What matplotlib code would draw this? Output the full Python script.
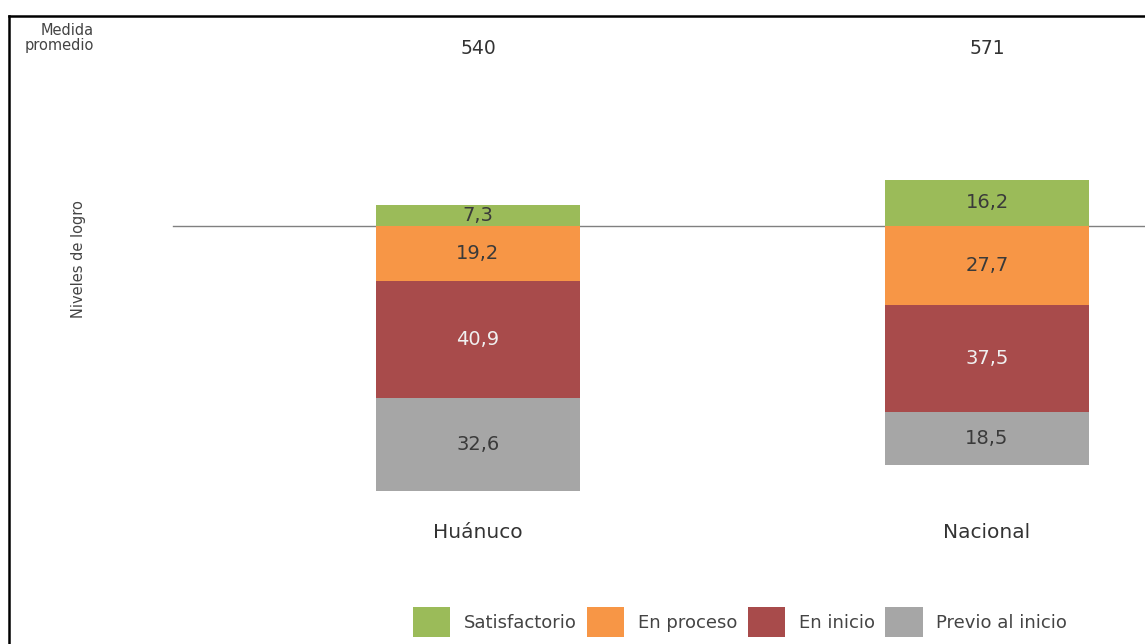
import matplotlib
matplotlib.use("Agg")
import matplotlib.pyplot as plt
from matplotlib.patches import Patch
from matplotlib.lines import Line2D

categories = ["Huánuco", "Nacional"]
medida = ["540", "571"]
satisfactorio = [7.3, 16.2]
en_proceso = [19.2, 27.7]
en_inicio = [40.9, 37.5]
previo = [32.6, 18.5]
levels = ["Satisfactorio", "En proceso", "En inicio", "Previo al inicio"]
colors = ["#9BBB59", "#F79646", "#A84B4B", "#A6A6A6"]
label_colors = ["#3a3a3a", "#3a3a3a", "#f0f0f0", "#3a3a3a"]

W, H = 1145, 644
plt.rcParams['font.family'] = ['DejaVu Sans']
fig = plt.figure(figsize=(W / 100, H / 100), dpi=100)
ax = fig.add_axes([0, 0, 1, 1])

# axis mapping: categories at px 478 and 987, baseline at px 226, 2.86 px per unit
px_per_cat = 509.0
x0 = 478.0
ax.set_xlim(-x0 / px_per_cat, (W - x0) / px_per_cat)
ppu = 2.86
base = 226.0
ax.set_ylim(-(H - base) / ppu, base / ppu)
ax.axis("off")

xs = list(range(len(categories)))
bw = 0.40
ax.axhline(0, xmin=173 / W, xmax=1, color="#808080", lw=1.0, zorder=1)

ax.bar(xs, satisfactorio, width=bw, color=colors[0], zorder=2)
bottom = [0.0] * len(xs)
neg = [en_proceso, en_inicio, previo]
for i, series in enumerate(neg):
    vals = [-v for v in series]
    ax.bar(xs, vals, width=bw, bottom=bottom, color=colors[i + 1], zorder=2)
    for j, v in enumerate(series):
        ax.text(xs[j], bottom[j] - v / 2, f"{v:.1f}".replace(".", ","),
                ha="center", va="center", fontsize=14, color=label_colors[i + 1], zorder=3)
    bottom = [b - v for b, v in zip(bottom, series)]
for j, v in enumerate(satisfactorio):
    ax.text(xs[j], v / 2, f"{v:.1f}".replace(".", ","),
            ha="center", va="center", fontsize=14, color=label_colors[0], zorder=3)

for j in xs:
    ax.text(xs[j], (base - 48) / ppu, medida[j], ha="center", va="center",
            fontsize=13.5, color="#333333")
    ax.text(xs[j], (base - 532) / ppu, categories[j], ha="center", va="center",
            fontsize=14.5, color="#333333")

fig.text(94 / W, 1 - 38 / H, "Medida\npromedio", ha="right", va="center",
         fontsize=10.5, color="#444444", linespacing=0.95)
fig.text(79 / W, 1 - 259 / H, "Niveles de logro", ha="center", va="center",
         rotation=90, fontsize=10.5, color="#444444")

# frame
fig.add_artist(Line2D([9 / W, 1], [1 - 16 / H, 1 - 16 / H], color="black", lw=1.8))
fig.add_artist(Line2D([9 / W, 9 / W], [0, 1 - 16 / H], color="black", lw=1.8))

handles = [Patch(facecolor=c, edgecolor="none") for c in colors]
fig.legend(handles, levels, loc="center", bbox_to_anchor=(740 / W, 1 - 622 / H),
           ncol=4, frameon=False, fontsize=13, handlelength=2.05, handleheight=2.2,
           handletextpad=0.75, columnspacing=0.6, labelcolor="#444444")

fig.savefig("out.png", dpi=100)
